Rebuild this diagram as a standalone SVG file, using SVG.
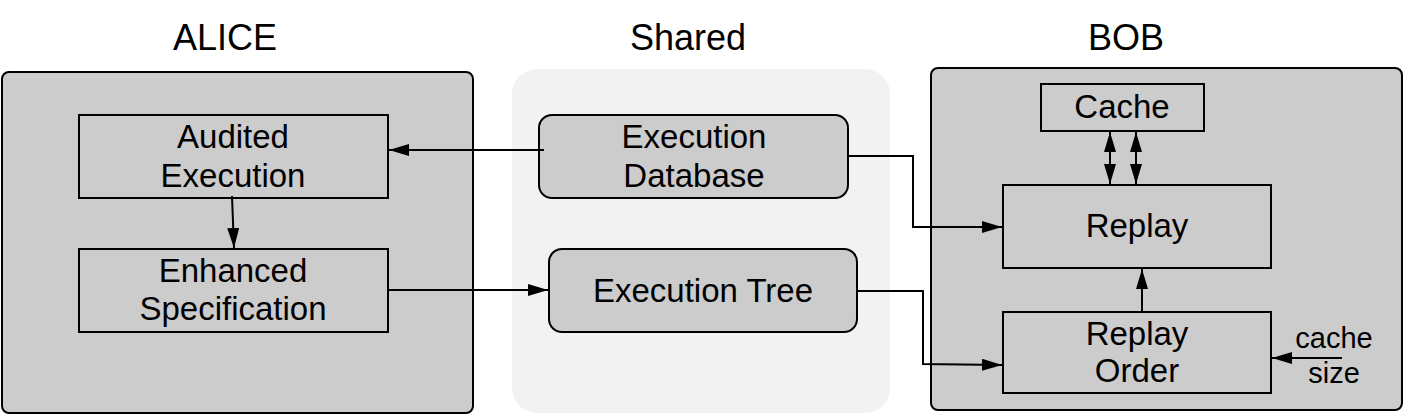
<svg xmlns="http://www.w3.org/2000/svg" width="1404" height="416" viewBox="0 0 1404 416">
<defs>
<marker id="ah" viewBox="0 0 20 12" refX="20" refY="6" markerWidth="20" markerHeight="12" markerUnits="userSpaceOnUse" orient="auto-start-reverse">
<path d="M0,0 L20,6 L0,12 Z" fill="#000"/>
</marker>
</defs>
<style>
.t{font-family:"Liberation Sans",Arial,Helvetica,sans-serif;fill:#000;text-anchor:middle}
.title{font-size:36px}
.n{font-size:33px}
.s{font-size:29px}
.cont{fill:#cccccc;stroke:#000;stroke-width:2}
.shared{fill:#f2f2f2;stroke:none}
.box{fill:#cccccc;stroke:#000;stroke-width:2}
.c{fill:none;stroke:#000;stroke-width:2}
</style>
<rect x="0" y="0" width="1404" height="416" fill="#fff"/>
<g id="titles">
<text class="t title" x="225" y="50">ALICE</text>
<text class="t title" x="688" y="50">Shared</text>
<text class="t title" x="1126" y="50">BOB</text>
</g>
<g id="alice">
<rect class="cont" x="2" y="72" width="471" height="341" rx="7"/>
</g>
<g id="shared">
<rect class="shared" x="512" y="69" width="378" height="344" rx="25"/>
</g>
<g id="bob">
<rect class="cont" x="931" y="68" width="471" height="342" rx="7"/>
</g>
<g id="audited">
<rect class="box" x="79" y="115" width="309" height="83"/>
<text class="t n" x="233" y="148">Audited</text>
<text class="t n" x="233" y="187">Execution</text>
</g>
<g id="enhanced">
<rect class="box" x="79" y="249" width="309" height="83"/>
<text class="t n" x="233" y="282">Enhanced</text>
<text class="t n" x="233" y="320">Specification</text>
</g>
<g id="execdb">
<rect class="box" x="539" y="115" width="309" height="83" rx="13"/>
<text class="t n" x="694" y="148">Execution</text>
<text class="t n" x="694" y="187">Database</text>
</g>
<g id="exectree">
<rect class="box" x="549" y="249" width="308" height="83" rx="13"/>
<text class="t n" x="703" y="302">Execution Tree</text>
</g>
<g id="cache">
<rect class="box" x="1041" y="84" width="163" height="47"/>
<text class="t n" x="1122" y="118">Cache</text>
</g>
<g id="replay">
<rect class="box" x="1003" y="185" width="268" height="83"/>
<text class="t n" x="1137" y="237">Replay</text>
</g>
<g id="replayorder">
<rect class="box" x="1003" y="312" width="268" height="81"/>
<text class="t n" x="1137" y="345">Replay</text>
<text class="t n" x="1137" y="382">Order</text>
</g>
<g id="cachesize">
<text class="t s" x="1334" y="348">cache</text>
<text class="t s" x="1334" y="383">size</text>
</g>
<g id="connectors">
<path class="c" d="M544,150 L389,150" marker-end="url(#ah)"/>
<path class="c" d="M232,196 L234,248" marker-end="url(#ah)"/>
<path class="c" d="M387,290 L548,290" marker-end="url(#ah)"/>
<path class="c" d="M848,156 L913,156 L913,227 L1002,227" marker-end="url(#ah)"/>
<path class="c" d="M857,291 L923,291 L923,364 L1002,365" marker-end="url(#ah)"/>
<path class="c" d="M1110,132 L1110,184" marker-start="url(#ah)" marker-end="url(#ah)"/>
<path class="c" d="M1136,132 L1136,184" marker-start="url(#ah)" marker-end="url(#ah)"/>
<path class="c" d="M1142,312 L1142,269" marker-end="url(#ah)"/>
<path class="c" d="M1342,358 L1272,358" marker-end="url(#ah)"/>
</g>
</svg>
